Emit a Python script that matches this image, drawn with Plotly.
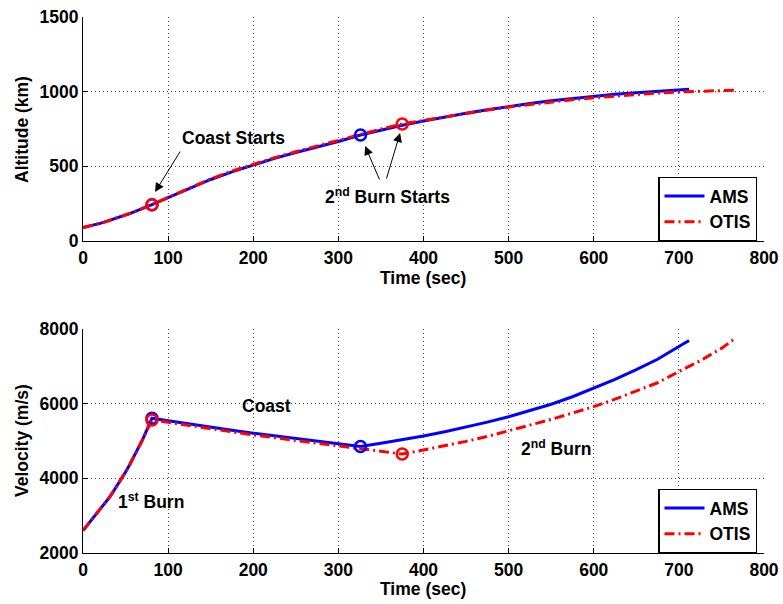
import plotly.graph_objects as go

# ---------------- data ----------------
t_ams = [0, 5, 10, 15, 20, 25, 30, 35, 40, 45, 50, 55, 60, 65, 70, 75, 81,
         100, 125, 150, 175, 200, 225, 250, 275, 300, 326,
         350, 375, 400, 425, 450, 475, 500, 525, 550, 575, 600, 625, 650, 675, 700, 712]
alt_ams = [90, 96, 103, 110, 118, 126, 135, 144, 153, 163, 173, 184, 195, 206, 218, 230, 243,
           290, 352, 412, 463, 510, 553, 593, 630, 666, 710,
           743, 775, 803, 830, 855, 879, 901, 921, 939, 955, 969, 982, 993, 1003, 1012, 1016]
vel_ams = [2600, 2740, 2880, 3010, 3150, 3300, 3460, 3625, 3800, 3980, 4170, 4370, 4580, 4800, 5040, 5300, 5610,
           5540, 5450, 5370, 5290, 5210, 5140, 5070, 5000, 4920, 4850,
           4940, 5035, 5135, 5250, 5370, 5505, 5650, 5810, 5985, 6185, 6410, 6650, 6910, 7190, 7530, 7690]

t_otis = [0, 5, 10, 15, 20, 25, 30, 35, 40, 45, 50, 55, 60, 65, 70, 75, 81,
          100, 125, 150, 175, 200, 225, 250, 275, 300, 326, 350, 375,
          400, 425, 450, 475, 500, 525, 550, 575, 600, 625, 650, 675, 700, 725, 750, 765]
alt_otis = [90, 96, 103, 110, 118, 126, 135, 144, 153, 163, 173, 184, 195, 206, 218, 230, 243,
            292, 355, 416, 468, 515, 558, 598, 636, 672, 716, 750, 784,
            808, 832, 855, 877, 897, 915, 931, 946, 959, 971, 982, 991, 998, 1004, 1008, 1010]
vel_otis = [2600, 2740, 2880, 3010, 3150, 3300, 3460, 3625, 3800, 3980, 4170, 4370, 4580, 4800, 5035, 5280, 5560,
            5500, 5410, 5320, 5240, 5160, 5090, 5010, 4940, 4870, 4800, 4730, 4650,
            4760, 4870, 4990, 5120, 5270, 5420, 5580, 5750, 5920, 6120, 6330, 6560, 6860, 7150, 7480, 7730]

ams_evt_t = [81, 326]
ams_evt_alt = [243, 710]
ams_evt_vel = [5610, 4850]
otis_evt_t = [81, 375]
otis_evt_alt = [243, 784]
otis_evt_vel = [5560, 4650]

x_ticks = [0, 100, 200, 300, 400, 500, 600, 700, 800]
alt_ticks = [0, 500, 1000, 1500]
vel_ticks = [2000, 4000, 6000, 8000]

# ---------------- figure ----------------
FONT = "Liberation Sans, Arial, Helvetica, sans-serif"
FS = 17.5
BLUE = "#0000ff"
RED = "#ff0000"
DASHDOT = "10px,4px,2px,4px"
GRIDDASH = "1px,3px"

fig = go.Figure()

# top: altitude
fig.add_trace(go.Scatter(x=t_ams, y=alt_ams, mode="lines", name="AMS",
                         line=dict(color=BLUE, width=3), xaxis="x", yaxis="y", legend="legend"))
fig.add_trace(go.Scatter(x=t_otis, y=alt_otis, mode="lines", name="OTIS",
                         line=dict(color=RED, width=3, dash=DASHDOT), xaxis="x", yaxis="y", legend="legend"))
fig.add_trace(go.Scatter(x=ams_evt_t, y=ams_evt_alt, mode="markers", showlegend=False,
                         marker=dict(symbol="circle-open", size=11, color=BLUE, line=dict(width=2.5)),
                         xaxis="x", yaxis="y"))
fig.add_trace(go.Scatter(x=otis_evt_t, y=otis_evt_alt, mode="markers", showlegend=False,
                         marker=dict(symbol="circle-open", size=11, color=RED, line=dict(width=2.5)),
                         xaxis="x", yaxis="y"))

# bottom: velocity
fig.add_trace(go.Scatter(x=t_ams, y=vel_ams, mode="lines", name="AMS",
                         line=dict(color=BLUE, width=3), xaxis="x2", yaxis="y2", legend="legend2"))
fig.add_trace(go.Scatter(x=t_otis, y=vel_otis, mode="lines", name="OTIS",
                         line=dict(color=RED, width=3, dash=DASHDOT), xaxis="x2", yaxis="y2", legend="legend2"))
fig.add_trace(go.Scatter(x=ams_evt_t, y=ams_evt_vel, mode="markers", showlegend=False,
                         marker=dict(symbol="circle-open", size=11, color=BLUE, line=dict(width=2.5)),
                         xaxis="x2", yaxis="y2"))
fig.add_trace(go.Scatter(x=otis_evt_t, y=otis_evt_vel, mode="markers", showlegend=False,
                         marker=dict(symbol="circle-open", size=11, color=RED, line=dict(width=2.5)),
                         xaxis="x2", yaxis="y2"))

W, H = 783, 604
xdom = [83 / W, 764 / W]
ydom_top = [1 - 241 / H, 1 - 17 / H]
ydom_bot = [1 - 553 / H, 1 - 329 / H]

tickfont = dict(family=FONT, size=FS, color="black", weight="bold")

def xaxis(anchor):
    return dict(domain=xdom, range=[0, 800], tickvals=x_ticks, ticktext=[str(v) for v in x_ticks],
                showline=True, linecolor="black", linewidth=1, ticks="inside", ticklen=5,
                tickcolor="black", showgrid=True, gridcolor="#444444", griddash=GRIDDASH, gridwidth=1,
                zeroline=False, tickfont=tickfont, anchor=anchor, fixedrange=True, automargin=False,
                ticklabelstandoff=1)

def yaxis(anchor, dom, rng, tv):
    return dict(domain=dom, range=rng, tickvals=tv, ticktext=[str(v) for v in tv],
                showline=True, linecolor="black", linewidth=1, ticks="inside", ticklen=5,
                tickcolor="black", showgrid=True, gridcolor="#444444", griddash=GRIDDASH, gridwidth=1,
                zeroline=False, tickfont=tickfont, anchor=anchor, fixedrange=True, automargin=False,
                ticklabelstandoff=0)

legend_common = dict(font=dict(family=FONT, size=FS, color="black", weight="bold"),
                     bgcolor="white", bordercolor="black", borderwidth=1.5,
                     xanchor="right", yanchor="middle", tracegroupgap=0, itemwidth=40)

fig.update_layout(
    template="none",
    width=W, height=H,
    margin=dict(l=0, r=0, t=0, b=0, pad=0, autoexpand=False),
    paper_bgcolor="white", plot_bgcolor="white",
    font=dict(family=FONT, size=FS, color="black"),
    xaxis=xaxis("y"),
    yaxis=yaxis("x", ydom_top, [0, 1500], alt_ticks),
    xaxis2=xaxis("y2"),
    yaxis2=yaxis("x2", ydom_bot, [2000, 8000], vel_ticks),
    legend=dict(x=757 / W, y=1 - 209 / H, **legend_common),
    legend2=dict(x=757 / W, y=1 - 521 / H, **legend_common),
)

bold = dict(family=FONT, size=FS, color="black", weight="bold")
ann = []
# axis titles
ann.append(dict(text="Time (sec)", x=423 / W, y=1 - 278 / H, xref="paper", yref="paper",
                showarrow=False, font=bold, xanchor="center", yanchor="middle"))
ann.append(dict(text="Time (sec)", x=423 / W, y=1 - 589 / H, xref="paper", yref="paper",
                showarrow=False, font=bold, xanchor="center", yanchor="middle"))
ann.append(dict(text="Altitude (km)", x=22 / W, y=1 - 130 / H, xref="paper", yref="paper",
                showarrow=False, font=bold, textangle=-90, xanchor="center", yanchor="middle"))
ann.append(dict(text="Velocity (m/s)", x=22 / W, y=1 - 441 / H, xref="paper", yref="paper",
                showarrow=False, font=bold, textangle=-90, xanchor="center", yanchor="middle"))

arrow = dict(xref="x", yref="y", axref="x", ayref="y", showarrow=True, arrowhead=2,
             arrowsize=1.8, arrowwidth=1, arrowcolor="black", standoff=0, text="")
# top annotations
ann.append(dict(text="Coast Starts", x=177, y=690, xref="x", yref="y", showarrow=False, font=bold))
ann.append(dict(x=84.6, y=328, ax=115.2, ay=609, **arrow))
ann.append(dict(text="2<sup>nd</sup> Burn Starts", x=358, y=300, xref="x", yref="y", showarrow=False, font=bold))
ann.append(dict(x=331.4, y=636, ax=349, ay=402, **arrow))
ann.append(dict(x=372.5, y=723, ax=356, ay=408, **arrow))

# bottom annotations
ann.append(dict(text="Coast", x=216, y=5938, xref="x2", yref="y2", showarrow=False, font=bold))
ann.append(dict(text="1<sup>st</sup> Burn", x=80, y=3400, xref="x2", yref="y2", showarrow=False, font=bold))
ann.append(dict(text="2<sup>nd</sup> Burn", x=556, y=4800, xref="x2", yref="y2", showarrow=False, font=bold))

fig.update_layout(annotations=ann)

fig.write_html("out.html", config={"displayModeBar": False},
               post_script="document.body.style.margin='0';document.body.style.padding='0';")
